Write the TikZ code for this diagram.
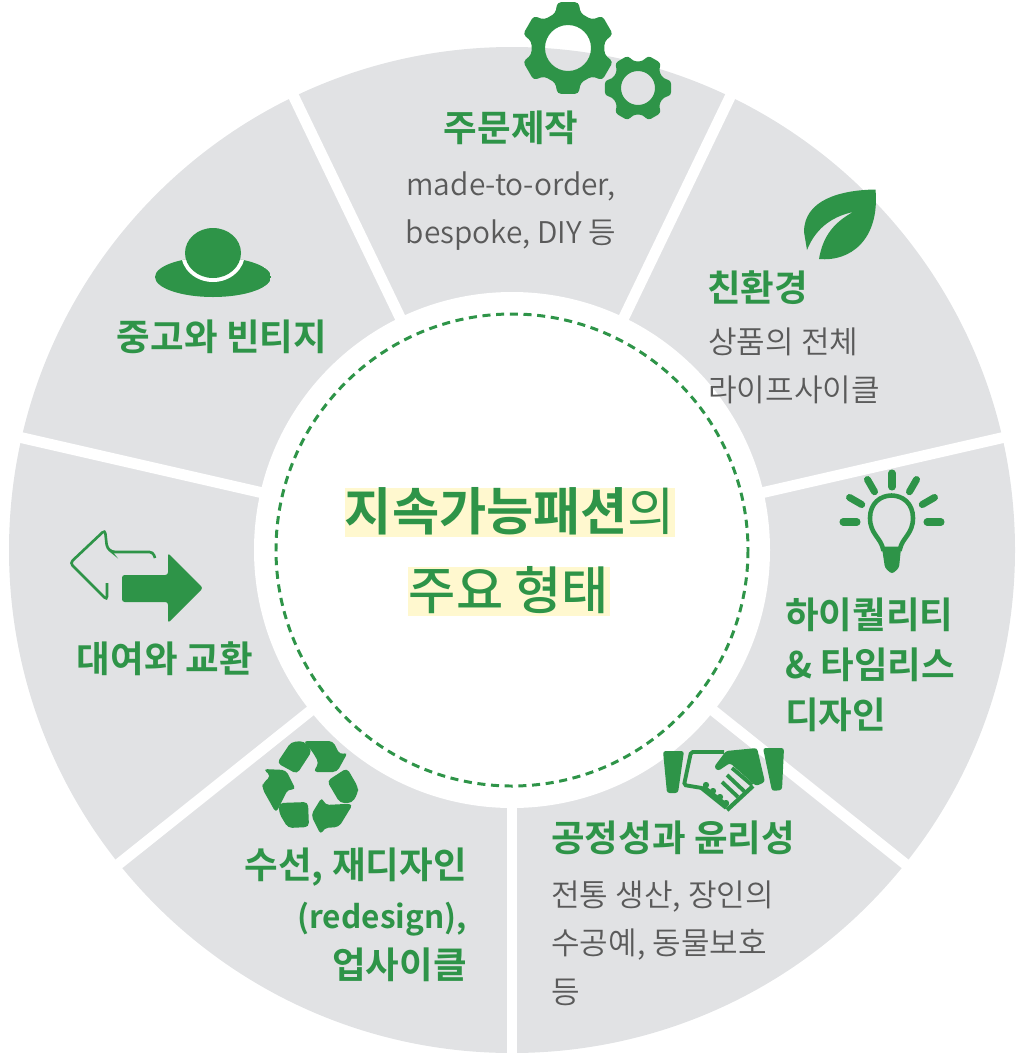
\documentclass[tikz,border=0pt]{standalone}
\usepackage{fontspec}
\newfontfamily\krfont[BoldFont={Noto Sans CJK KR Bold}]{Noto Sans CJK KR}
\newfontfamily\krmedium{Noto Sans CJK KR Medium}
\newfontfamily\krthin{Noto Sans CJK KR DemiLight}
\definecolor{leafgreen}{HTML}{2E9448}
\definecolor{wheelgray}{HTML}{E1E2E4}
\definecolor{bodygray}{HTML}{5A5A5A}
\definecolor{hilite}{HTML}{FFF8CF}
\tikzset{
  divider/.style={draw=white,line width=6.2pt},
  heading/.style={inner sep=0pt,text=leafgreen,align=left,font=\krfont\bfseries\fontsize{20.8}{28.3}\selectfont},
  bodytext/.style={inner sep=0pt,text=bodygray,align=left,font=\krthin\fontsize{17.7}{27.5}\selectfont},
  hiline/.style={inner sep=0pt,fill=hilite,text=leafgreen,text height=24.4pt,text depth=3.4pt,font=\krfont\fontsize{29.2}{30}\selectfont},
  icon/.style={fill=leafgreen,rounded corners=1.5pt},
  recycle/.style={fill=leafgreen,rounded corners=2.4pt},
  pics/gear/.style n args={4}{code={
    \fill[leafgreen,even odd rule,rounded corners=2pt] (#1-13:#2) -- (#1+13:#2) -- (#1+20:#3) -- (#1+40:#3)
      \foreach \a in {60,120,...,300} {
        -- (#1+\a-13:#2) -- (#1+\a+13:#2) -- (#1+\a+20:#3) -- (#1+\a+40:#3)
      } -- cycle {[sharp corners] (0,0) circle (#4)};
  }}
}
\begin{document}
\begin{tikzpicture}[x=0.02cm,y=-0.02cm]
\useasboundingbox (0,0) rectangle (1024,1062);
\coordinate (hub) at (512,550);
% wheel
\fill[wheelgray] (hub) circle (503);
\foreach \a in {64.3,115.7,167.1,218.6,270,321.4,12.9}
  \draw[divider] (hub) -- ++(-\a:515);
\fill[white] (hub) circle (258);
\draw[leafgreen,line width=1.7pt,dash pattern=on 4.6pt off 3.2pt] (hub) circle (236);
% centre
\node[hiline,minimum width=327*0.5669pt] (titleA) at (510,512.5)
  {{\bfseries 지속가능패션}의};
\node[hiline,minimum width=202*0.5669pt] (titleB) at (509,591.5)
  {\krmedium 주요 형태};
% gears
\pic at (568,48) {gear={30}{47}{37}{23}};
\pic at (638,88) {gear={0}{34}{27}{17}};
\node[heading] (madeHead) at (511,128) {주문제작};
\node[bodytext,align=center,font=\krthin\fontsize{17}{27.5}\selectfont] (madeText) at (511,211) {made-to-order,\\bespoke, DIY 등};
% leaf
\fill[leafgreen] (875.5,189.5) .. controls (840,190) and (804,200) .. (804,232)
  -- (807,250) .. controls (815,230) and (830,217) .. (853,212)
  .. controls (835,222) and (823,235) .. (819,259)
  .. controls (850,262) and (880,240) .. (875.5,189.5) -- cycle;
\node[heading,anchor=west] (ecoHead) at (707,288) {친환경};
\node[bodytext,anchor=west] (ecoText) at (708,366) {상품의 전체\\라이프사이클};
% bulb
\foreach \a in {0,30,...,180}
  \draw[leafgreen,line width=4pt,line cap=round] (892,522) ++(-\a:35) -- ++(-\a:14);
\draw[leafgreen,line width=2.6pt] (883,549) .. controls (881,538) and (870,534) .. (870,518)
  .. controls (870,488) and (913,488) .. (913,518)
  .. controls (913,534) and (902,538) .. (900,549) -- cycle;
\fill[icon] (882,548) -- (901,548) -- (899,568) -- (892,574) -- (885,568) -- cycle;
\node[heading,anchor=west] (timeHead) at (785,665) {하이퀄리티\\\& 타임리스\\디자인};
% handshake
\fill[icon] (663,751) -- (684,751) -- (678,793) -- (667,793) -- cycle;
\fill[icon] (763,748) -- (784,748) -- (782,790) -- (772,791) -- cycle;
\draw[leafgreen,line width=2.2pt,rounded corners=1pt] (724,752) -- (691,752) -- (684,785) -- (702,788);
\fill[icon] (726,751) -- (757,748) -- (765,782) -- (756,786) -- (730,763) -- (718,771) -- (714,767) -- cycle;
\draw[leafgreen,line width=2.4pt] (753,786) -- (727,810);
\draw[leafgreen,line width=3.6pt] (702,787) -- (727,807);
\foreach \x/\y in {706/785,713/791,720/797,726/803}
  \fill[icon] (\x-3,\y-3) rectangle (\x+3,\y+3);
\foreach \x/\y/\u/\v in {722/782/738/797,727/775/745/792,732/768/752/785}
  \draw[leafgreen,line width=2.2pt] (\x,\y) -- (\u,\v);
\node[heading,anchor=west] (fairHead) at (551,838) {공정성과 윤리성};
\node[bodytext,anchor=west] (fairText) at (551,943) {전통 생산, 장인의\\수공예, 동물보호\\등};
% recycle
\fill[recycle] (277,763) -- (291,742) -- (304,741) -- (312,751) -- (297,774) -- cycle;
\fill[recycle] (303,741) -- (333,741) -- (340,755) -- (348,752) -- (337,772) -- (313,772) -- (319,763) -- (312,751) -- cycle;
\fill[recycle] (327,781) -- (347,768) -- (358,787) -- (358,793) -- (352,803) -- (340,803) -- cycle;
\fill[recycle] (353,804) -- (339,827) -- (324,828) -- (321,835) -- (311,815) -- (322,797) -- (325,805) -- (345,804) -- cycle;
\fill[recycle] (279,803) -- (308,802) -- (309,827) -- (288,828) -- (279,813) -- cycle;
\fill[recycle] (263,769) -- (286,770) -- (296,790) -- (288,789) -- (276,813) -- (262,788) -- (263,783) -- (271,776) -- cycle;
\node[heading,align=right,anchor=east] (reHead) at (467,915) {수선, 재디자인\\{\fontsize{18}{28.3}\selectfont (redesign),}\\업사이클};
% arrows
\draw[leafgreen,line width=1.5pt,rounded corners=2pt] (155,558) -- (153,552) -- (112,552) -- (107,548)
  -- (105,530) -- (70,563) -- (107,600) -- (107,583);
\fill[icon] (122,575) -- (168,575) -- (168,553) -- (203,588) -- (168,623) -- (168,602) -- (122,602) -- cycle;
\node[heading] (rentHead) at (165,659) {대여와 교환};
% hat
\begin{scope}
  \clip (213,277) ellipse (58 and 20);
  \fill[leafgreen] (213,277) ellipse (58 and 20);
  \fill[white] (213,253) ellipse (32 and 29);
\end{scope}
\fill[leafgreen] (213,253) ellipse (28 and 25);
\node[heading] (usedHead) at (222,337) {중고와 빈티지};
\end{tikzpicture}
\end{document}
